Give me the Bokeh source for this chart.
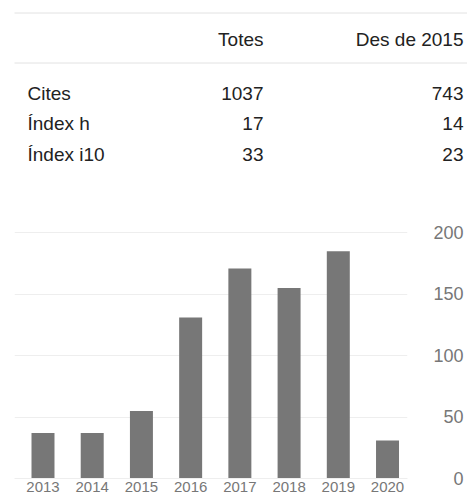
from bokeh.plotting import figure
from bokeh.models import Range1d, FixedTicker
from bokeh.embed import file_html
from bokeh.resources import INLINE
from bokeh.core.properties import value

# ---- data ----
years = [2013, 2014, 2015, 2016, 2017, 2018, 2019, 2020]
citations = [37, 37, 55, 131, 171, 155, 185, 31]
row_labels = ["Cites", "Índex h", "Índex i10"]
col_headers = ["Totes", "Des de 2015"]
totals = [1037, 17, 33]
since_2015 = [743, 14, 23]
y_ticks = [0, 50, 100, 150, 200]

FONT = "Liberation Sans"
W = 467
TOP_H = 215
CHART_H = 280

# ---- summary table ----
t = figure(width=W, height=TOP_H, x_range=Range1d(0, W), y_range=Range1d(TOP_H, 0),
           x_axis_type=None, y_axis_type=None, output_backend="svg",
           toolbar_location=None, min_border=0)
t.grid.visible = False
t.outline_line_color = None

t.segment(x0=[14, 14], y0=[12.5, 62.5], x1=[W, W], y1=[12.5, 62.5],
          line_color="#e2e2e2", line_width=1)

text_kw = dict(text_font=value(FONT), text_font_size="19px", text_color="#222222",
               text_baseline="middle")
t.text(x=[263, 463], y=[39, 39], text=col_headers, text_align="right", **text_kw)
row_y = [93, 123, 153.5]
t.text(x=[27] * 3, y=row_y, text=row_labels, text_align="left", **text_kw)
t.text(x=[263] * 3, y=row_y, text=[str(v) for v in totals], text_align="right", **text_kw)
t.text(x=[463] * 3, y=row_y, text=[str(v) for v in since_2015], text_align="right", **text_kw)

# ---- bar chart ----
c = figure(width=W, height=CHART_H,
           x_range=Range1d(2012.421, 2020.406), y_range=Range1d(0, 205.9),
           y_axis_location="right", output_backend="svg", toolbar_location=None,
           min_border_left=14, min_border_right=60, min_border_top=10, min_border_bottom=17)
c.outline_line_color = None

c.vbar(x=years, top=citations, width=0.467, fill_color="#777777", line_color=None)

fs = "\u2007"
c.yaxis.ticker = FixedTicker(ticks=y_ticks)
c.yaxis.major_label_overrides = {v: fs * (3 - len(str(v))) + str(v) for v in y_ticks}
c.yaxis.major_label_text_font = FONT
c.yaxis.major_label_text_font_size = "18px"
c.yaxis.major_label_text_color = "#777777"
c.yaxis.major_label_standoff = 26
c.yaxis.major_tick_out = 0
c.yaxis.major_tick_in = 0
c.yaxis.minor_tick_out = 0
c.yaxis.minor_tick_in = 0
c.yaxis.axis_line_color = None
c.yaxis.major_tick_line_color = None
c.yaxis.minor_tick_line_color = None

c.xaxis.ticker = FixedTicker(ticks=years)
c.xaxis.major_label_text_font = FONT
c.xaxis.major_label_text_font_size = "15px"
c.xaxis.major_label_text_color = "#777777"
c.xaxis.major_label_standoff = 3
c.xaxis.major_tick_out = 0
c.xaxis.major_tick_in = 0
c.xaxis.minor_tick_out = 0
c.xaxis.minor_tick_in = 0
c.xaxis.axis_line_color = "#eeeeee"
c.xaxis.major_tick_line_color = None
c.xaxis.minor_tick_line_color = None

c.xgrid.visible = False
c.ygrid.grid_line_color = "#eeeeee"

open("out.html", "w").write(file_html([t, c], INLINE))
